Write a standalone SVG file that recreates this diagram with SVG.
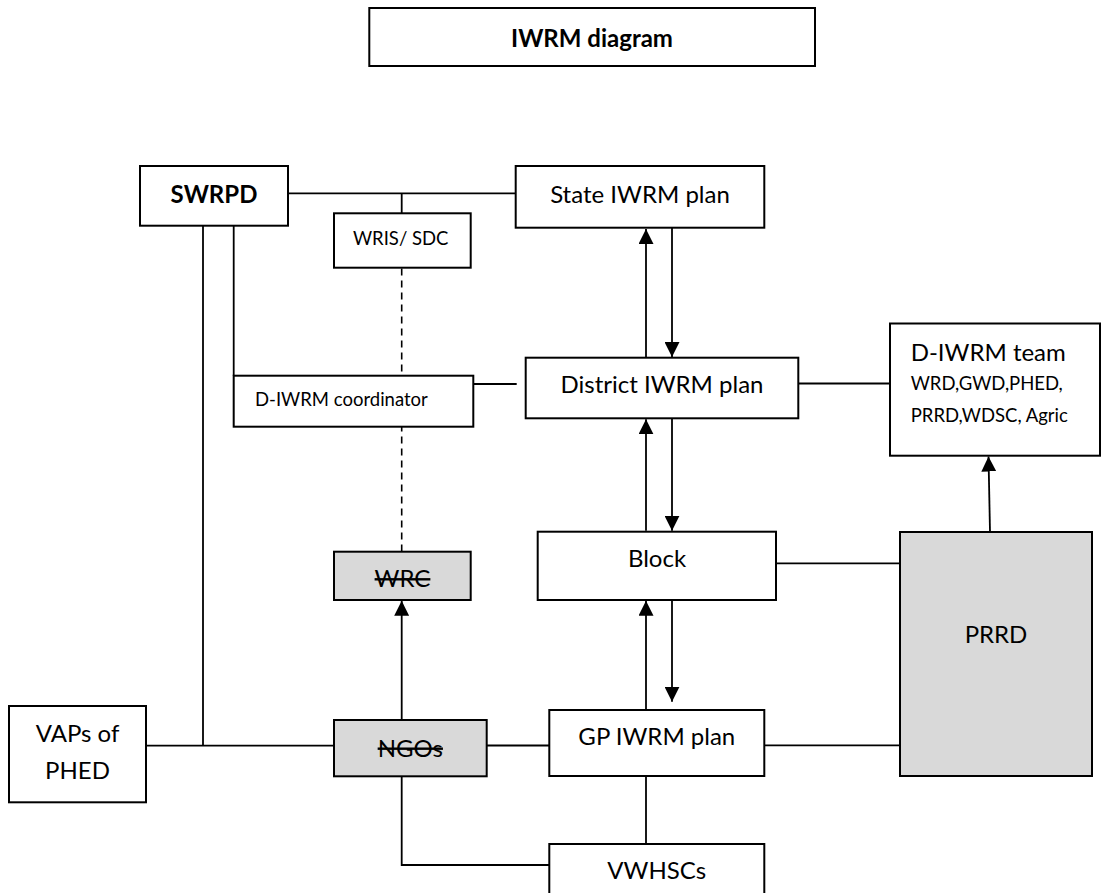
<svg xmlns="http://www.w3.org/2000/svg" width="1102" height="893" viewBox="0 0 1102 893">
<defs>
<style>
.box{fill:#fff;stroke:#000;stroke-width:2}
.grey{fill:#d9d9d9;stroke:#000;stroke-width:2}
.ln{fill:none;stroke:#000;stroke-width:1.8}
.dash{fill:none;stroke:#000;stroke-width:1.6;stroke-dasharray:7 5}
text{font-family:Lato,"Liberation Sans",sans-serif;fill:#000}
.t{font-size:24px;text-anchor:middle}
.s{font-size:18.5px}
.b{font-weight:bold}
.strike{text-decoration:line-through}
</style>
<marker id="ah" markerUnits="userSpaceOnUse" markerWidth="15" markerHeight="15" refX="15" refY="7.5" orient="auto" viewBox="0 0 15 15">
<path d="M0,0 L15,7.5 L0,15 z" fill="#000"/>
</marker>
</defs>
<rect width="1102" height="893" fill="#fff"/>
<g id="connectors">
<path class="ln" d="M288 193.3 H515.7"/>
<path class="ln" d="M401.7 193.3 V213.3"/>
<path class="dash" d="M401.7 268.5 V551"/>
<path class="ln" d="M203 225.7 V745.7"/>
<path class="ln" d="M233.7 225.7 V375.7"/>
<path class="ln" d="M473.3 384 H516.7"/>
<path class="ln" d="M646 357.7 V229" marker-end="url(#ah)"/>
<path class="ln" d="M672 227.7 V357" marker-end="url(#ah)"/>
<path class="ln" d="M646 530.7 V419.3" marker-end="url(#ah)"/>
<path class="ln" d="M672 418.3 V530.7" marker-end="url(#ah)"/>
<path class="ln" d="M798.3 383.5 H890"/>
<path class="ln" d="M646 710 V600.7" marker-end="url(#ah)"/>
<path class="ln" d="M672 600 V701.7" marker-end="url(#ah)"/>
<path class="ln" d="M776 563.3 H900"/>
<path class="ln" d="M764.3 745.3 H900"/>
<path class="ln" d="M990 532 L988.5 456.5" marker-end="url(#ah)"/>
<path class="ln" d="M401.7 720 V600.8" marker-end="url(#ah)"/>
<path class="ln" d="M146 745.7 H334"/>
<path class="ln" d="M486.7 745.5 H549.3"/>
<path class="ln" d="M401.7 776.3 V865 H549.3"/>
<path class="ln" d="M646 776 V844"/>
</g>
<g id="title">
<rect class="box" x="369.3" y="8" width="445.7" height="58"/>
<text class="t b" x="592" y="47.3" font-size="25">IWRM diagram</text>
</g>
<g id="swrpd">
<rect class="box" x="140" y="166" width="148" height="59.7"/>
<text class="t b" x="214" y="203.3" font-size="22.5">SWRPD</text>
</g>
<g id="state-plan">
<rect class="box" x="515.7" y="166" width="248.6" height="61.7"/>
<text class="t" x="640" y="203.3">State IWRM plan</text>
</g>
<g id="wris-sdc">
<rect class="box" x="334" y="213.3" width="136.7" height="54.4"/>
<text class="s" x="400.7" y="245" text-anchor="middle">WRIS/ SDC</text>
</g>
<g id="d-iwrm-coordinator">
<rect class="box" x="233.7" y="375.7" width="239.6" height="51"/>
<text class="s" x="255" y="405.7">D-IWRM coordinator</text>
</g>
<g id="district-plan">
<rect class="box" x="525.7" y="357.7" width="272.6" height="60.6"/>
<text class="t" x="662" y="393.3">District IWRM plan</text>
</g>
<g id="d-iwrm-team">
<rect class="box" x="890" y="323.5" width="210" height="132.2"/>
<text x="910.7" y="360.7" font-size="24">D-IWRM team</text>
<text class="s" x="910.7" y="390">WRD,GWD,PHED,</text>
<text class="s" x="910.7" y="421.7">PRRD,WDSC, Agric</text>
</g>
<g id="wrc">
<rect class="grey" x="334" y="551.7" width="136.7" height="48.3"/>
<text class="t strike" x="402.5" y="587.3">WRC</text>
</g>
<g id="block">
<rect class="box" x="537.7" y="531.7" width="238.3" height="68.3"/>
<text class="t" x="657" y="567.3">Block</text>
</g>
<g id="prrd">
<rect class="grey" x="900" y="532" width="192" height="244"/>
<text class="t" x="996" y="642.7">PRRD</text>
</g>
<g id="vaps-phed">
<rect class="box" x="9" y="706" width="137" height="96.3"/>
<text class="t" x="77.5" y="741.7">VAPs of</text>
<text class="t" x="77.5" y="779">PHED</text>
</g>
<g id="ngos">
<rect class="grey" x="334" y="720" width="152.7" height="56.3"/>
<text class="t strike" x="410.3" y="756.7">NGOs</text>
</g>
<g id="gp-plan">
<rect class="box" x="549.3" y="710" width="215" height="66"/>
<text class="t" x="656.8" y="745">GP IWRM plan</text>
</g>
<g id="vwhscs">
<rect class="box" x="549.3" y="844" width="215" height="60"/>
<text class="t" x="656.8" y="879.3" font-size="23">VWHSCs</text>
</g>
</svg>
